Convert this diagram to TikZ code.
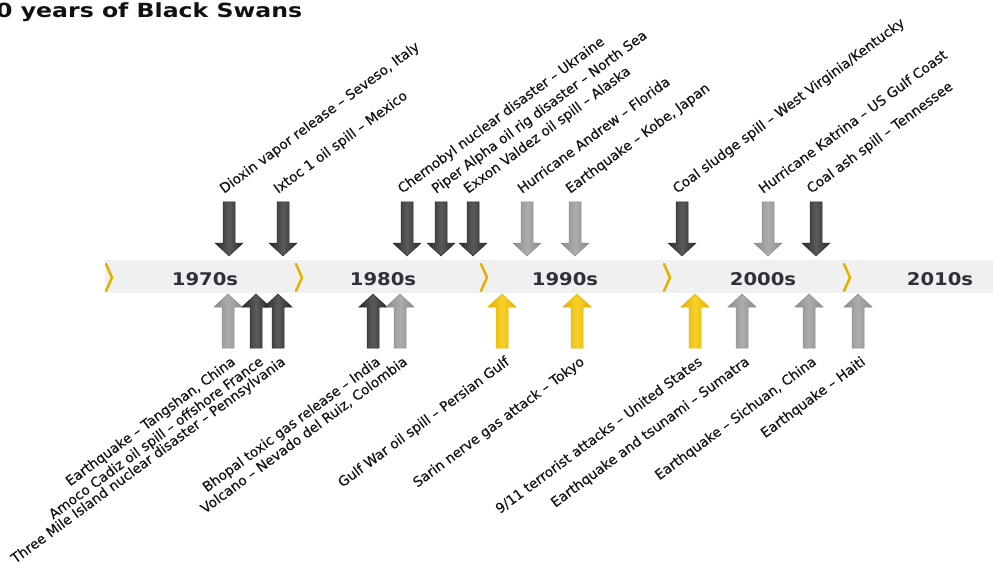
\documentclass[tikz,border=0pt]{standalone}
\usepackage{fontspec}
\setmainfont{DejaVu Sans}
\newfontfamily\lblfont[FakeBold=0.35]{DejaVu Sans}
\definecolor{barfill}{HTML}{F0F0F0}
\definecolor{chevyellow}{HTML}{E2B100}
\definecolor{decadetext}{HTML}{30303C}
\definecolor{labeltext}{HTML}{141414}
\definecolor{titletext}{HTML}{111111}
\definecolor{dkE}{HTML}{2B2B2B}
\definecolor{dkM}{HTML}{5A5A5A}
\definecolor{ltE}{HTML}{8C8C8C}
\definecolor{ltM}{HTML}{ACACAC}
\definecolor{ylE}{HTML}{E3B200}
\definecolor{ylM}{HTML}{F8CF2A}
\tikzset{
  lbl/.style={font=\lblfont\fontsize{13.7}{15}\selectfont, text=labeltext, inner sep=0pt, rotate=36.5},
  toplbl/.style={lbl, anchor=base west},
  botlbl/.style={lbl, anchor=north east},
  decade/.style={font=\bfseries\fontsize{17.5}{20}\selectfont, text=decadetext, inner sep=0pt, anchor=base},
  chev/.style={draw=chevyellow, line width=2.5pt, line cap=round, line join=round},
  bar/.style={fill=barfill, draw=none},
}
\begin{document}
\begin{tikzpicture}[x=1pt,y=-1pt]
\useasboundingbox (0,0) rectangle (993,564);
% title
\node[anchor=base west, inner sep=0pt, font=\bfseries\fontsize{19.5}{22}\selectfont, text=titletext] (title) at (-4,18) {\scalebox{1.21}[1]{0 years of Black Swans}};
% timeline bar
\path[bar] (105,260) rectangle (993,293);
\foreach \c in {106,296,481,664,844}{
  \draw[chev] (\c,264) -- (\c+6,277.5) -- (\c,291);
}
\node[decade] (d1970) at (205,285) {\scalebox{1.12}[1]{1970s}};
\node[decade] (d1980) at (383,285) {\scalebox{1.12}[1]{1980s}};
\node[decade] (d1990) at (565,285) {\scalebox{1.12}[1]{1990s}};
\node[decade] (d2000) at (763,285) {\scalebox{1.12}[1]{2000s}};
\node[decade] (d2010) at (940,285) {\scalebox{1.12}[1]{2010s}};
% top events (down arrows)
\foreach \x/\t/\e/\m [count=\i] in {
  229/{Dioxin vapor release – Seveso, Italy}/dkE/dkM,
  283/{Ixtoc 1 oil spill – Mexico}/dkE/dkM,
  407/{Chernobyl nuclear disaster – Ukraine}/dkE/dkM,
  441/{Piper Alpha oil rig disaster – North Sea}/dkE/dkM,
  473/{Exxon Valdez oil spill – Alaska}/dkE/dkM,
  527/{Hurricane Andrew – Florida}/ltE/ltM,
  575/{Earthquake – Kobe, Japan}/ltE/ltM,
  682/{Coal sludge spill – West Virginia/Kentucky}/dkE/dkM,
  768/{Hurricane Katrina – US Gulf Coast}/ltE/ltM,
  816/{Coal ash spill – Tennessee}/dkE/dkM}{
  \path[left color=\e, right color=\e, middle color=\m, draw=\e, line width=0.5pt]
    (\x-6,202) -- (\x+6,202) -- (\x+6,243) -- (\x+14,243) -- (\x,256) -- (\x-14,243) -- (\x-6,243) -- cycle;
  \node[toplbl] (top\i) at (\x-5,194) {\t};
}
% bottom events (up arrows)
\foreach \x/\t/\e/\m [count=\i] in {
  228/{Earthquake – Tangshan, China}/ltE/ltM,
  256/{Amoco Cadiz oil spill – offshore France}/dkE/dkM,
  278/{Three Mile Island nuclear disaster – Pennsylvania}/dkE/dkM,
  373/{Bhopal toxic gas release – India}/dkE/dkM,
  400/{Volcano – Nevado del Ruiz, Colombia}/ltE/ltM,
  502/{Gulf War oil spill – Persian Gulf}/ylE/ylM,
  577/{Sarin nerve gas attack – Tokyo}/ylE/ylM,
  695/{9/11 terrorist attacks – United States}/ylE/ylM,
  742/{Earthquake and tsunami – Sumatra}/ltE/ltM,
  809/{Earthquake – Sichuan, China}/ltE/ltM,
  858/{Earthquake – Haiti}/ltE/ltM}{
  \path[left color=\e, right color=\e, middle color=\m, draw=\e, line width=0.5pt]
    (\x-6,348) -- (\x+6,348) -- (\x+6,307) -- (\x+14,307) -- (\x,294) -- (\x-14,307) -- (\x-6,307) -- cycle;
  \node[botlbl] (bot\i) at (\x+2,355) {\t};
}
\end{tikzpicture}
\end{document}
